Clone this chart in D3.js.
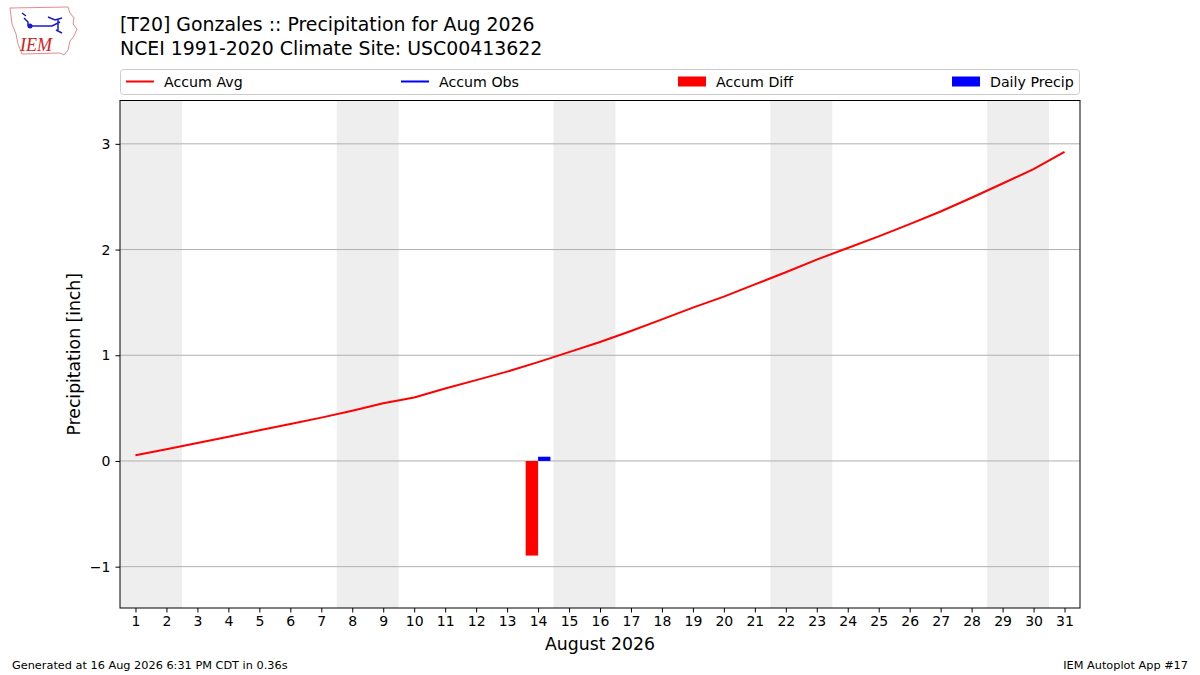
<!DOCTYPE html>
<html>
<head>
<meta charset="utf-8">
<script src="https://cdn.jsdelivr.net/npm/d3@7"></script>
<style>
  body { margin: 0; background: #fff; }
  svg { font-family: "DejaVu Sans", sans-serif; }
</style>
</head>
<body>
<svg id="chart" width="1200" height="675"></svg>
<script>
// Precipitation for Aug 2026, T20 Gonzales

const days = d3.range(1, 32);
const accumAvg = [0.055, 0.11, 0.17, 0.23, 0.29, 0.35, 0.41, 0.475, 0.545, 0.60,
  0.685, 0.765, 0.845, 0.935, 1.03, 1.125, 1.23, 1.34, 1.45, 1.555,
  1.67, 1.785, 1.905, 2.015, 2.125, 2.24, 2.36, 2.49, 2.625, 2.76, 2.925];
const obsDays = [14];
const accumObs = [0.04];
const dailyPrecip = [0.04];
const accumDiff = [-0.895];
const weekends = [[1, 2], [8, 9], [15, 16], [22, 23], [29, 30]];
const yTicks = [-1, 0, 1, 2, 3];
const legendItems = [
  { label: "Accum Avg", kind: "line", color: "red" },
  { label: "Accum Obs", kind: "line", color: "blue" },
  { label: "Accum Diff", kind: "patch", color: "red" },
  { label: "Daily Precip", kind: "patch", color: "blue" },
];

const svg = d3.select("#chart");
const m = { left: 120, right: 1080, top: 100.5, bottom: 608 };

const x = d3.scaleLinear().domain([0.5, 31.5]).range([m.left, m.right]);
const y = d3.scaleLinear().domain([-1.391, 3.41]).range([m.bottom, m.top]);

// weekend shading
svg.append("g")
  .selectAll("rect")
  .data(weekends)
  .enter().append("rect")
  .attr("x", d => x(d[0] - 0.5))
  .attr("width", d => x(d[1] + 0.5) - x(d[0] - 0.5))
  .attr("y", m.top)
  .attr("height", m.bottom - m.top)
  .attr("fill", "#eeeeee");

// grid
svg.append("g")
  .selectAll("line")
  .data(yTicks)
  .enter().append("line")
  .attr("x1", m.left).attr("x2", m.right)
  .attr("y1", d => y(d)).attr("y2", d => y(d))
  .attr("stroke", "#b0b0b0")
  .attr("stroke-width", 1);

// bars: accum diff left of day, daily precip right of day
svg.append("g")
  .selectAll("rect")
  .data(obsDays.map((d, i) => ({ day: d, v: accumDiff[i] })))
  .enter().append("rect")
  .attr("x", d => x(d.day - 0.4))
  .attr("width", d => x(d.day) - x(d.day - 0.4))
  .attr("y", d => y(Math.max(0, d.v)))
  .attr("height", d => Math.abs(y(d.v) - y(0)))
  .attr("fill", "red");

svg.append("g")
  .selectAll("rect")
  .data(obsDays.map((d, i) => ({ day: d, v: dailyPrecip[i] })))
  .enter().append("rect")
  .attr("x", d => x(d.day))
  .attr("width", d => x(d.day + 0.4) - x(d.day))
  .attr("y", d => y(Math.max(0, d.v)))
  .attr("height", d => Math.abs(y(d.v) - y(0)))
  .attr("fill", "blue");

// lines
const line = d3.line().x(d => x(d[0])).y(d => y(d[1]));
svg.append("path")
  .datum(days.map((d, i) => [d, accumAvg[i]]))
  .attr("d", line)
  .attr("fill", "none")
  .attr("stroke", "red")
  .attr("stroke-width", 2);

svg.append("path")
  .datum(obsDays.map((d, i) => [d, accumObs[i]]))
  .attr("d", line)
  .attr("fill", "none")
  .attr("stroke", "blue")
  .attr("stroke-width", 2);

// frame
svg.append("rect")
  .attr("x", m.left).attr("y", m.top)
  .attr("width", m.right - m.left).attr("height", m.bottom - m.top)
  .attr("fill", "none").attr("stroke", "#000").attr("stroke-width", 1);

// axes
const xAxis = svg.append("g")
  .attr("transform", `translate(0,${m.bottom})`)
  .call(d3.axisBottom(x).tickValues(days).tickFormat(d3.format("d")).tickSize(4.5).tickPadding(4));
const yAxis = svg.append("g")
  .attr("transform", `translate(${m.left},0)`)
  .call(d3.axisLeft(y).tickValues(yTicks).tickFormat(d => d < 0 ? "\u2212" + Math.abs(d) : d).tickSize(4.5).tickPadding(5));
[xAxis, yAxis].forEach(a => {
  a.select(".domain").remove();
  a.selectAll("text").attr("font-size", 14).attr("fill", "#000")
    .attr("font-family", "DejaVu Sans, sans-serif");
  a.selectAll("line").attr("stroke", "#000");
});

svg.append("text")
  .attr("x", (m.left + m.right) / 2).attr("y", 650)
  .attr("text-anchor", "middle").attr("font-size", 17.3)
  .text("August 2026");

svg.append("text")
  .attr("transform", `translate(80,${(m.top + m.bottom) / 2}) rotate(-90)`)
  .attr("text-anchor", "middle").attr("font-size", 17.2)
  .text("Precipitation [inch]");

// legend
const lg = svg.append("g");
lg.append("rect")
  .attr("x", m.left + 0.5).attr("y", 69.5)
  .attr("width", m.right - m.left - 1).attr("height", 25)
  .attr("rx", 3)
  .attr("fill", "#fff").attr("stroke", "#cccccc");
const legendX = [126, 401, 678, 952];
legendItems.forEach((d, i) => {
  const g = lg.append("g").attr("transform", `translate(${legendX[i]},81.5)`);
  if (d.kind === "line") {
    g.append("line").attr("x1", 0).attr("x2", 28).attr("y1", 0).attr("y2", 0)
      .attr("stroke", d.color).attr("stroke-width", 2);
  } else {
    g.append("rect").attr("x", 0).attr("y", -5).attr("width", 28).attr("height", 10)
      .attr("fill", d.color);
  }
  g.append("text").attr("x", 38).attr("y", 5).attr("font-size", 14.2).text(d.label);
});

// titles
svg.append("text").attr("x", 120).attr("y", 31).attr("font-size", 18.9)
  .text("[T20] Gonzales :: Precipitation for Aug 2026");
svg.append("text").attr("x", 120).attr("y", 55).attr("font-size", 18.9)
  .text("NCEI 1991-2020 Climate Site: USC00413622");

// footer
svg.append("text").attr("x", 12).attr("y", 669).attr("font-size", 11.3)
  .text("Generated at 16 Aug 2026 6:31 PM CDT in 0.36s");
svg.append("text").attr("x", 1188).attr("y", 669).attr("font-size", 11.3)
  .attr("text-anchor", "end").text("IEM Autoplot App #17");

// logo (rough)
const logo = svg.append("g");
logo.append("path")
  .attr("d", "M10,8 L68,7 L70,13 L74,18 L73,24 L77,29 L74,36 L70,41 L68,50 L64,55 L60,53 L22,54 L18,44 L16,34 L12,24 Z")
  .attr("fill", "#fff").attr("stroke", "#e88a8a").attr("stroke-width", 1);
logo.append("path")
  .attr("d", "M22,13 L26,16 M24,18 L28,22 L28,26 M30,26 L52,26 L60,22 M48,17 L55,20 L62,18 M58,19 L58,30 M56,30 L62,33")
  .attr("fill", "none").attr("stroke", "#1a1ad0").attr("stroke-width", 1.5);
logo.append("circle").attr("cx", 30).attr("cy", 26).attr("r", 2.5).attr("fill", "#1a1ad0");
logo.append("text").attr("x", 20).attr("y", 51)
  .attr("font-family", "Liberation Serif, serif").attr("font-style", "italic")
  .attr("font-size", 18).attr("fill", "#d42020").text("IEM");
</script>
</body>
</html>
